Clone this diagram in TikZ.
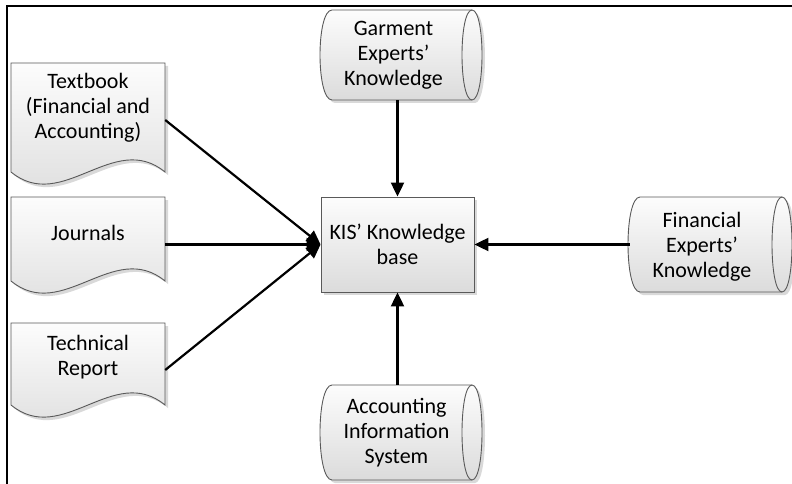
\documentclass[tikz,border=0pt]{standalone}
\usepackage{fontspec}
\setmainfont{Carlito}
\usetikzlibrary{arrows.meta}
\tikzset{
  shapefill/.style={top color=black!1, bottom color=black!14, draw=black!65, line width=0.9pt},
  shadowfill/.style={fill=black!15},
  innerline/.style={draw=black!65, line width=0.9pt},
  anchorbox/.style={draw=none, inner sep=0pt, minimum width=154pt},
  lbl/.style={font=\fontsize{22}{25}\selectfont, align=center, text=black},
  kisbox/.style={shapefill, inner sep=0pt, minimum width=153pt, minimum height=95pt, font=\fontsize{22}{25}\selectfont, align=center},
  conn/.style={line width=2.2pt, -{Triangle[length=14pt,width=13pt]}},
  frameline/.style={line width=2.6pt}
}
\newcommand\drawdoc[4]{%
  \fill[shadowfill,shift={(3,3)}] (#1,#2) -- ({#1+#3},#2) -- ({#1+#3},{#2+#4}) .. controls ({#1+#3*2/3},{#2+#4-42}) and ({#1+#3/3},{#2+#4+42}) .. (#1,{#2+#4}) -- cycle;
  \path[shapefill] (#1,#2) -- ({#1+#3},#2) -- ({#1+#3},{#2+#4}) .. controls ({#1+#3*2/3},{#2+#4-42}) and ({#1+#3/3},{#2+#4+42}) .. (#1,{#2+#4}) -- cycle;
}
\newcommand\drawdrum[6]{%
  \fill[shadowfill,shift={(3,3)}] (#1,#3) -- (#2,#3) .. controls ({#2+1.333*#6},#3) and ({#2+1.333*#6},#4) .. (#2,#4) -- (#1,#4) .. controls ({#1-1.333*#5},#4) and ({#1-1.333*#5},#3) .. (#1,#3) -- cycle;
  \path[shapefill] (#1,#3) -- (#2,#3) .. controls ({#2+1.333*#6},#3) and ({#2+1.333*#6},#4) .. (#2,#4) -- (#1,#4) .. controls ({#1-1.333*#5},#4) and ({#1-1.333*#5},#3) .. (#1,#3) -- cycle;
  \draw[innerline] (#2,#3) .. controls ({#2-1.333*#6},#3) and ({#2-1.333*#6},#4) .. (#2,#4);
}
\begin{document}
\begin{tikzpicture}[x=1pt,y=-1pt]
\useasboundingbox (0,0) rectangle (792,484);
\fill[white] (0,0) rectangle (792,484);
% frame
\draw[frameline] (7,484) -- (7,6) -- (792,6);
% document shapes
\drawdoc{11}{63}{154}{109}
\drawdoc{11}{197}{154}{84}
\drawdoc{11}{323}{154}{82}
% drums
\drawdrum{332}{472}{10}{100}{12}{10}
\drawdrum{640}{782}{197}{292}{12}{10}
\drawdrum{332}{472}{385}{480}{12}{10}
% central box
\fill[shadowfill] (324,200) rectangle (477,295);
\node[kisbox] (kis) at (397.5,244.5) {KIS' Knowledge\\base};
% anchor nodes with labels
\node[anchorbox, minimum height=100pt, label={[lbl,yshift=12pt]center:{Textbook\\(Financial and\\Accounting)}}] (textbook) at (88,120) {};
\node[anchorbox, minimum height=84pt, label={[lbl,yshift=11.5pt]center:{Journals}}] (journals) at (88,244.5) {};
\node[anchorbox, minimum height=82pt, label={[lbl,yshift=13pt]center:{Technical\\Report}}] (technical) at (88,370) {};
\node[anchorbox, minimum height=90pt, label={[lbl,xshift=-4pt]center:{Garment\\Experts'\\Knowledge}}] (garment) at (397.5,55) {};
\node[anchorbox, minimum height=95pt, label={[lbl,xshift=-5pt,yshift=-2pt]center:{Financial\\Experts'\\Knowledge}}] (financial) at (707,244.5) {};
\node[anchorbox, minimum height=95pt, label={[lbl,xshift=-1pt]center:{Accounting\\Information\\System}}] (accounting) at (397.5,432.5) {};
% connectors
\draw[conn] (textbook.east) -- (kis.west);
\draw[conn] (journals.east) -- (kis.west);
\draw[conn] (technical.east) -- (kis.west);
\draw[conn] (garment.south) -- (kis.north);
\draw[conn] (financial.west) -- (kis.east);
\draw[conn] (accounting.north) -- (kis.south);
\end{tikzpicture}
\end{document}
